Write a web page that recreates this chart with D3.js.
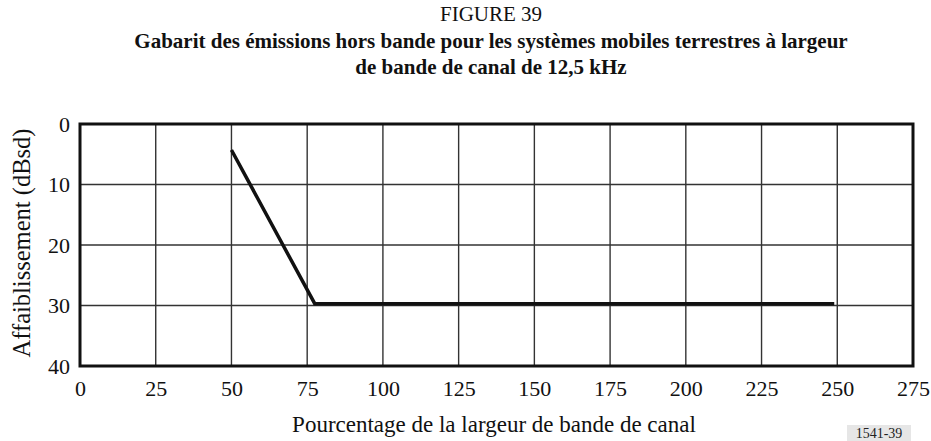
<!DOCTYPE html>
<html>
<head>
<meta charset="utf-8">
<script src="https://cdn.jsdelivr.net/npm/d3@7"></script>
<style>
  body { margin: 0; background: #fff; }
  svg { display: block; font-family: "Liberation Serif", "DejaVu Serif", serif; }
</style>
</head>
<body>
<svg id="chart" width="931" height="441"></svg>
<script>
// gabarit : pourcentage de largeur de bande -> affaiblissement
const xVals = [50, 77.5, 249];
const yVals = [4.3, 29.7, 29.7];
const xTicks = [0, 25, 50, 75, 100, 125, 150, 175, 200, 225, 250, 275];
const yTicks = [0, 10, 20, 30, 40];

const margin = {top: 124, right: 18, bottom: 75, left: 80};
const width = 931 - margin.left - margin.right,
      height = 441 - margin.top - margin.bottom;

const svg = d3.select("#chart");
const g = svg.append("g").attr("transform", `translate(${margin.left},${margin.top})`);

const x = d3.scaleLinear().domain([0, 275]).range([0, width]);
const y = d3.scaleLinear().domain([0, 40]).range([0, height]);

// grille
g.append("g").selectAll("line").data(xTicks.slice(1, -1)).enter().append("line")
  .attr("x1", d => x(d)).attr("x2", d => x(d))
  .attr("y1", 0).attr("y2", height)
  .attr("stroke", "#333").attr("stroke-width", 1.4);
g.append("g").selectAll("line").data(yTicks.slice(1, -1)).enter().append("line")
  .attr("x1", 0).attr("x2", width)
  .attr("y1", d => y(d)).attr("y2", d => y(d))
  .attr("stroke", "#333").attr("stroke-width", 1.4);

// cadre
g.append("rect").attr("width", width).attr("height", height)
  .attr("fill", "none").attr("stroke", "#111").attr("stroke-width", 3);

// axes (labels only)
const xAxis = d3.axisBottom(x).tickValues(xTicks).tickSize(0).tickPadding(14);
g.append("g").attr("transform", `translate(0,${height})`).call(xAxis)
  .call(s => s.select(".domain").remove())
  .selectAll("text").attr("font-size", 22).attr("fill", "#111")
  .attr("font-family", "Liberation Serif, serif");

const yAxis = d3.axisLeft(y).tickValues(yTicks).tickSize(0).tickPadding(10);
g.append("g").call(yAxis)
  .call(s => s.select(".domain").remove())
  .selectAll("text").attr("font-size", 22).attr("fill", "#111")
  .attr("font-family", "Liberation Serif, serif");

// courbe
const line = d3.line().x(d => x(d[0])).y(d => y(d[1]));
g.append("path")
  .datum(xVals.map((v, i) => [v, yVals[i]]))
  .attr("d", line)
  .attr("fill", "none").attr("stroke", "#111").attr("stroke-width", 3.5);

// titres
svg.append("text").attr("x", 491).attr("y", 21).attr("text-anchor", "middle")
  .attr("font-size", 21).attr("fill", "#111").text("FIGURE 39");
svg.append("text").attr("x", 491).attr("y", 48).attr("text-anchor", "middle")
  .attr("font-size", 21).attr("font-weight", "bold").attr("fill", "#111")
  .text("Gabarit des émissions hors bande pour les systèmes mobiles terrestres à largeur");
svg.append("text").attr("x", 491).attr("y", 74).attr("text-anchor", "middle")
  .attr("font-size", 21).attr("font-weight", "bold").attr("fill", "#111")
  .text("de bande de canal de 12,5 kHz");

svg.append("text").attr("x", 494).attr("y", 432).attr("text-anchor", "middle")
  .attr("font-size", 23).attr("fill", "#111")
  .text("Pourcentage de la largeur de bande de canal");

svg.append("text").attr("transform", "translate(30,243) rotate(-90)")
  .attr("text-anchor", "middle").attr("font-size", 24.5).attr("fill", "#111")
  .text("Affaiblissement (dBsd)");

svg.append("rect").attr("x", 847).attr("y", 425).attr("width", 64).attr("height", 16)
  .attr("fill", "#e6e6e6");
svg.append("text").attr("x", 879).attr("y", 438).attr("text-anchor", "middle")
  .attr("font-size", 14).attr("fill", "#222").text("1541-39");
</script>
</body>
</html>
